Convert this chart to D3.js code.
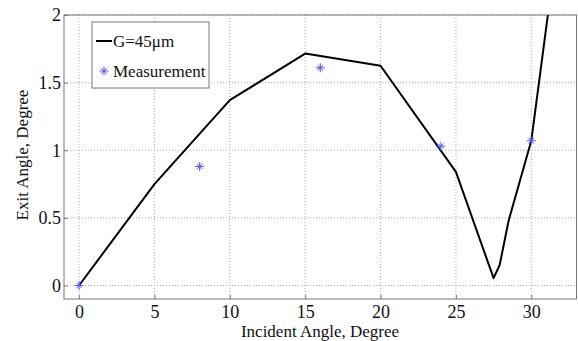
<!DOCTYPE html>
<html>
<head>
<meta charset="utf-8">
<script src="https://cdn.jsdelivr.net/npm/d3@7"></script>
<style>
  body { margin: 0; background: #fff; }
  svg text { font-family: "Liberation Serif", "DejaVu Serif", serif !important; fill: #111; }
</style>
</head>
<body>
<div id="chart"></div>
<script>
// simulated curve G=45um
const simX = [0, 5, 10, 15, 20, 25, 27.5, 27.9, 28.5, 30, 31.1];
const simY = [0, 0.75, 1.37, 1.715, 1.625, 0.84, 0.054, 0.15, 0.48, 1.07, 2.0];
// measurements
const measX = [0, 8, 16, 24, 30];
const measY = [0, 0.88, 1.61, 1.03, 1.07];

const xTicks = [0, 5, 10, 15, 20, 25, 30];
const yTicks = [0, 0.5, 1, 1.5, 2];

const width = 578, height = 341;
const plot = { left: 64, right: 576.5, top: 15, bottom: 299 };
const serif = '"Liberation Serif", "Times New Roman", serif';

const svg = d3.select('#chart').append('svg')
  .attr('width', width)
  .attr('height', height);

const xScale = d3.scaleLinear().domain([-1, 33]).range([plot.left, plot.right]);
const yScale = d3.scaleLinear().domain([-0.1, 2]).range([plot.bottom, plot.top]);

svg.append('defs').append('clipPath').attr('id', 'clip')
  .append('rect')
  .attr('x', plot.left).attr('y', plot.top)
  .attr('width', plot.right - plot.left).attr('height', plot.bottom - plot.top);

// grid
svg.append('g').selectAll('line')
  .data(xTicks).enter().append('line')
  .attr('x1', d => xScale(d)).attr('x2', d => xScale(d))
  .attr('y1', plot.top).attr('y2', plot.bottom)
  .attr('stroke', '#999').attr('stroke-width', 0.8)
  .attr('stroke-dasharray', '1,2');

svg.append('g').selectAll('line')
  .data(yTicks).enter().append('line')
  .attr('x1', plot.left).attr('x2', plot.right)
  .attr('y1', d => yScale(d)).attr('y2', d => yScale(d))
  .attr('stroke', '#999').attr('stroke-width', 0.8)
  .attr('stroke-dasharray', '1,2');

// frame
svg.append('rect')
  .attr('x', plot.left).attr('y', plot.top)
  .attr('width', plot.right - plot.left).attr('height', plot.bottom - plot.top)
  .attr('fill', 'none').attr('stroke', '#777').attr('stroke-width', 1);

// axes (ticks pointing inward)
const xAxis = svg.append('g')
  .attr('transform', `translate(0, ${plot.bottom})`)
  .call(d3.axisBottom(xScale).tickValues(xTicks).tickSize(-4).tickPadding(4).tickFormat(d3.format('d')));
const yAxis = svg.append('g')
  .attr('transform', `translate(${plot.left}, 0)`)
  .call(d3.axisLeft(yScale).tickValues(yTicks).tickSize(-4).tickPadding(3).tickFormat(d => d));

[xAxis, yAxis].forEach(a => {
  a.attr('font-family', serif);
  a.select('.domain').remove();
  a.selectAll('.tick line').attr('stroke', '#777');
  a.selectAll('.tick text')
    .attr('font-family', serif)
    .attr('font-size', 18)
    .attr('fill', '#111');
});
xAxis.selectAll('.tick text').attr('dy', '0.85em');

// axis labels
svg.append('text')
  .attr('x', 320)
  .attr('y', 337)
  .attr('text-anchor', 'middle')
  .attr('font-family', serif)
  .attr('font-size', 17)
  .text('Incident Angle, Degree');

svg.append('text')
  .attr('transform', 'rotate(-90)')
  .attr('x', -(plot.top + plot.bottom) / 2 + 2)
  .attr('y', 28)
  .attr('text-anchor', 'middle')
  .attr('font-family', serif)
  .attr('font-size', 17)
  .text('Exit Angle, Degree');

// curve
const simData = simX.map((x, i) => ({ x: x, y: simY[i] }));
svg.append('path')
  .datum(simData)
  .attr('clip-path', 'url(#clip)')
  .attr('fill', 'none')
  .attr('stroke', '#000')
  .attr('stroke-width', 2)
  .attr('stroke-linejoin', 'round')
  .attr('d', d3.line().x(d => xScale(d.x)).y(d => yScale(d.y)));

// asterisk marker
function star(g, cx, cy, r) {
  [0, 45, 90, 135].forEach(a => {
    const rad = a * Math.PI / 180;
    const k = (a % 90 === 0) ? r : r * 0.85;
    g.append('line')
      .attr('x1', cx - k * Math.cos(rad)).attr('y1', cy - k * Math.sin(rad))
      .attr('x2', cx + k * Math.cos(rad)).attr('y2', cy + k * Math.sin(rad))
      .attr('stroke', '#5555ff').attr('stroke-width', 1);
  });
}

const measData = measX.map((x, i) => ({ x: x, y: measY[i] }));
const mg = svg.append('g');
measData.forEach(d => star(mg, xScale(d.x), yScale(d.y), 4.5));

// legend
const lg = svg.append('g');
lg.append('rect')
  .attr('x', 92).attr('y', 22)
  .attr('width', 117).attr('height', 66)
  .attr('fill', '#fff').attr('stroke', '#777').attr('stroke-width', 1);
lg.append('line')
  .attr('x1', 96).attr('x2', 112)
  .attr('y1', 41).attr('y2', 41)
  .attr('stroke', '#000').attr('stroke-width', 2);
lg.append('text')
  .attr('x', 113).attr('y', 47)
  .attr('font-family', serif)
  .attr('font-size', 17)
  .text('G=45μm');
star(lg, 104, 71, 4.5);
lg.append('text')
  .attr('x', 113).attr('y', 77)
  .attr('font-family', serif)
  .attr('font-size', 17)
  .text('Measurement');
</script>
</body>
</html>
